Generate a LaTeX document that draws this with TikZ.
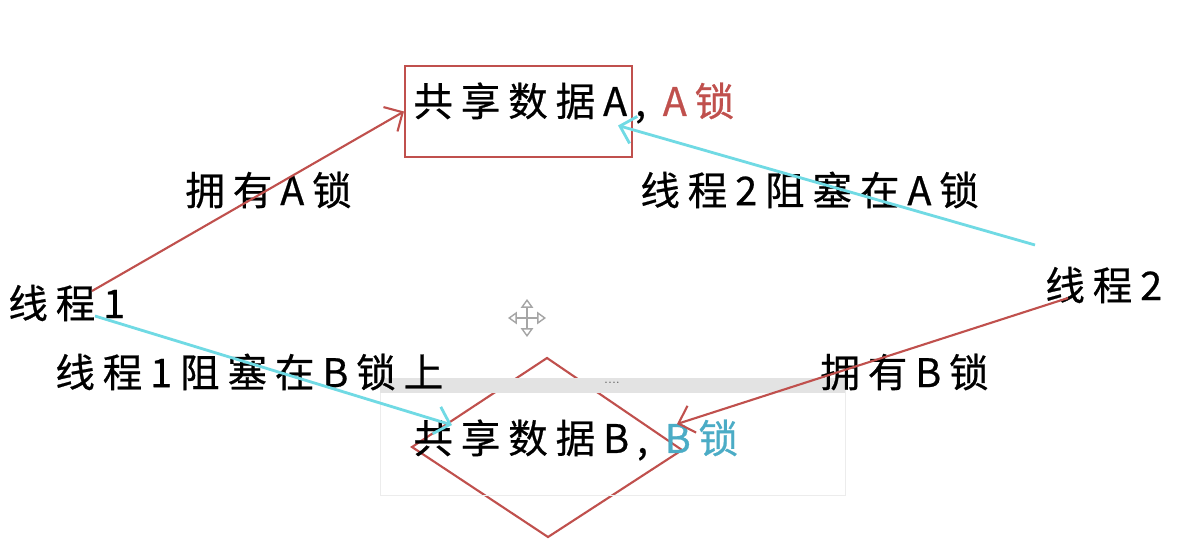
\documentclass[tikz,border=0pt]{standalone}
\usepackage{fontspec}
\usepackage{xcolor}
\usetikzlibrary{arrows,arrows.meta}
\newfontfamily\cjk[LetterSpace=20,FakeBold=0.6]{Noto Sans CJK SC}
\definecolor{lockred}{RGB}{192,80,77}
\definecolor{lockcyan}{RGB}{112,218,228}
\definecolor{lockblue}{RGB}{75,172,198}

\begin{document}
\begin{tikzpicture}[x=0.02cm,y=-0.02cm,
  txt/.style={anchor=west, inner sep=0pt, font=\cjk\fontsize{22.5}{27}\selectfont},
  redarr/.style={draw=lockred, line width=1.2pt, -{Straight Barb[length=8pt,width=16pt]}},
  cyanarr/.style={draw=lockcyan, line width=1.6pt, -{Straight Barb[length=8pt,width=16pt]}}]
\useasboundingbox [fill=white] (0,0) rectangle (1192,558);

\node [draw=lockred, line width=1.2pt, minimum width=4.54cm, minimum height=1.82cm, inner sep=0pt] (boxA) at (518.5,111.5) {};

\draw [lockred, line width=1.2pt] (547,358) -- (682,450) -- (548,537) -- (412,447) -- cycle;

\draw [gray!15] (380,378) rectangle (845,495);
\fill [gray!22] (380,378) rectangle (845,393);
\node [text=gray!70!black, font=\scriptsize] (dots) at (612,383) {....};

\draw [gray!70, line width=0.8pt, {Triangle[open,length=5pt,width=7pt]}-{Triangle[open,length=5pt,width=7pt]}] (508,318) -- (546,318);
\draw [gray!70, line width=0.8pt, {Triangle[open,length=5pt,width=7pt]}-{Triangle[open,length=5pt,width=7pt]}] (527,299) -- (527,337);

\node [txt] (dataA) at (413,103) {共享数据A, \textcolor{lockred}{A锁}};
\node [txt] (dataB) at (413,440) {共享数据B, \textcolor{lockblue}{B锁}};

\node [txt] (t1) at (8,303) {线程1};
\node [txt] (t2) at (1045,285) {线程2};

\node [txt] (ownA) at (185,190) {拥有A锁};
\node [txt] (waitA) at (640,190) {线程2阻塞在A锁};
\node [txt] (waitB) at (55,372) {线程1阻塞在B锁上};
\node [txt] (ownB) at (820,372) {拥有B锁};

\coordinate (t1a) at ([shift={(84,-12)}]t1.west);
\coordinate (t1b) at ([shift={(87,13)}]t1.west);
\coordinate (t2a) at ([shift={(-10,-40)}]t2.west);
\coordinate (t2b) at ([shift={(23,13)}]t2.west);
\coordinate (inA) at ([shift={(-15,14)}]boxA.east);
\coordinate (inB1) at ([shift={(39,-15)}]dataB.west);
\coordinate (inB2) at ([shift={(264,-16)}]dataB.west);

\draw [redarr] (t1a) -- (boxA.west);
\draw [cyanarr] (t2a) -- (inA);
\draw [cyanarr] (t1b) -- (inB1);
\draw [redarr] (t2b) -- (inB2);
\end{tikzpicture}
\end{document}
